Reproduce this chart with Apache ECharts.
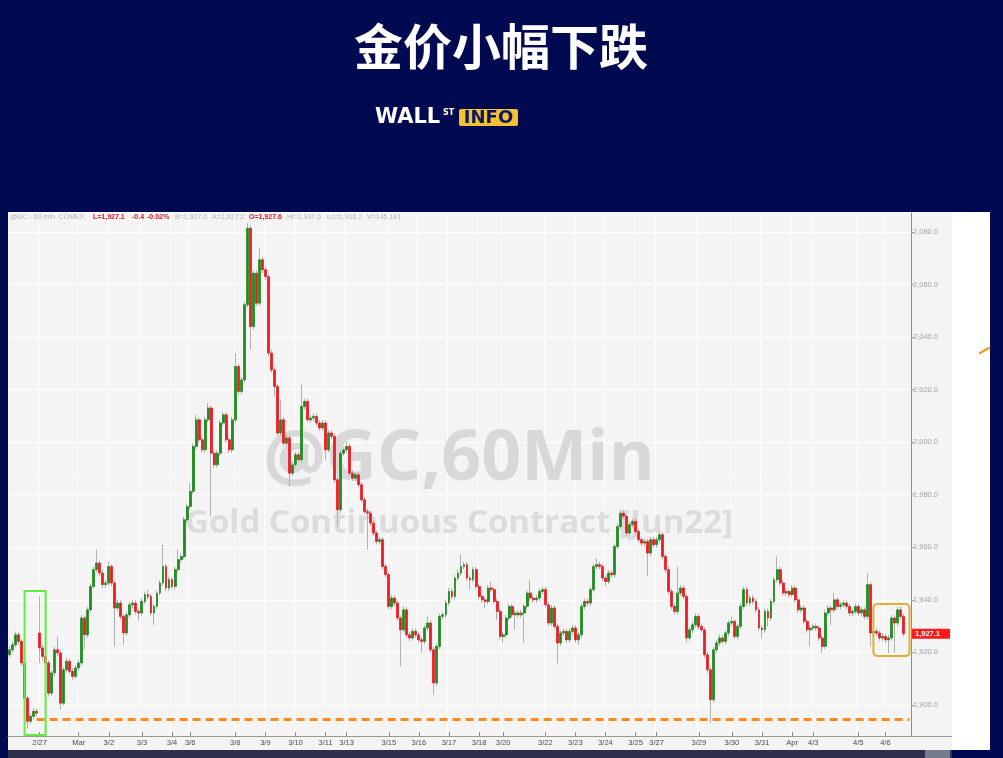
<!DOCTYPE html>
<html><head><meta charset="utf-8">
<script src="https://cdn.jsdelivr.net/npm/echarts@6/dist/echarts.min.js"></script>
<style>html,body{margin:0;padding:0;background:#010a50;}#c{width:1003px;height:758px;}</style>
</head><body><div id="c"></div>
<script>
// ---- data (hourly-ish candles) : [open, close, low, high]
const ohlc = [
[1919.1,1921.0,1918.0,1922.3],[1921.0,1922.9,1920.2,1924.2],[1922.9,1926.7,1922.0,1928.0],[1926.7,1924.2,1923.0,1927.6],
[1924.2,1916.0,1914.8,1925.0],[1916.0,1902.6,1901.4,1917.0],[1902.6,1893.8,1891.2,1903.4],[1893.8,1895.7,1892.6,1896.9],
[1895.7,1897.6,1894.5,1898.8],[1897.6,1896.9,1895.6,1898.6],[1927.4,1921.7,1916.0,1941.3],[1921.7,1918.5,1917.0,1922.8],
[1918.5,1916.0,1914.6,1919.5],[1916.0,1904.5,1903.3,1917.0],[1904.5,1912.2,1903.5,1913.2],[1912.2,1921.0,1911.0,1922.0],
[1921.0,1919.8,1918.6,1926.1],[1919.8,1900.7,1898.2,1920.8],[1900.7,1913.4,1899.8,1914.4],[1913.4,1916.6,1912.4,1918.0],
[1916.6,1912.8,1911.8,1917.6],[1912.8,1910.9,1909.6,1913.8],[1910.9,1914.1,1910.0,1915.2],[1914.1,1916.0,1913.0,1917.2],
[1916.0,1933.1,1915.0,1934.2],[1933.1,1926.7,1921.0,1934.0],[1926.7,1936.2,1925.6,1937.3],[1936.2,1945.1,1935.2,1946.2],
[1945.1,1951.5,1944.2,1952.6],[1951.5,1954.0,1950.4,1959.1],[1954.0,1950.2,1949.0,1955.0],[1950.2,1945.8,1944.6,1951.2],
[1945.8,1946.4,1944.6,1947.6],[1946.4,1952.7,1945.4,1954.6],[1952.7,1946.4,1945.2,1953.6],[1946.4,1936.9,1922.3,1947.4],
[1936.9,1938.8,1935.8,1940.0],[1938.8,1933.7,1932.6,1939.8],[1933.7,1927.4,1922.9,1934.7],[1927.4,1934.3,1926.4,1935.4],
[1934.3,1938.1,1933.2,1939.2],[1938.1,1938.8,1936.8,1940.0],[1938.8,1935.6,1934.4,1939.8],[1935.6,1935.0,1932.4,1936.8],
[1935.0,1939.4,1934.0,1940.5],[1939.4,1942.0,1938.4,1943.2],[1942.0,1941.3,1940.2,1943.9],[1941.3,1935.0,1934.0,1942.3],
[1935.0,1937.5,1930.5,1938.6],[1937.5,1942.6,1936.4,1943.7],[1942.6,1946.4,1941.6,1947.5],[1946.4,1952.7,1945.4,1961.0],
[1952.7,1944.5,1943.3,1953.7],[1944.5,1947.7,1943.4,1948.8],[1947.7,1945.1,1944.0,1948.7],[1945.1,1951.5,1944.0,1952.6],
[1951.5,1955.3,1950.4,1959.1],[1955.3,1956.5,1954.2,1957.8],[1956.5,1970.5,1955.4,1971.6],[1970.5,1975.5,1969.4,1976.6],
[1975.5,1981.3,1974.4,1984.4],[1981.3,1998.4,1980.2,1999.5],[1998.4,2008.5,1997.4,2010.4],[2008.5,2000.9,1999.8,2009.6],
[2000.9,1997.1,1996.0,2002.0],[1997.1,2008.5,1996.0,2009.6],[2008.5,2013.0,2007.4,2014.9],[2013.0,1995.8,1971.8,2014.0],
[1995.8,1991.4,1990.2,1997.0],[1991.4,1995.8,1990.3,1997.0],[1995.8,2007.3,1994.7,2008.4],[2007.3,2010.4,2006.2,2011.6],
[2010.4,2000.9,1999.8,2011.4],[2000.9,1997.1,1996.0,2002.0],[1997.1,2008.5,1996.0,2009.6],[2008.5,2028.8,2007.4,2033.9],
[2028.8,2019.3,2018.0,2029.8],[2019.3,2023.7,2018.2,2024.8],[2023.7,2052.3,2022.6,2053.4],[2052.3,2081.4,2051.2,2083.3],
[2081.4,2044.0,2035.2,2082.4],[2044.0,2064.3,2043.0,2065.4],[2064.3,2052.9,2051.8,2065.4],[2052.9,2069.4,2051.8,2073.8],
[2069.4,2065.6,2064.4,2070.6],[2065.6,2063.0,2061.8,2066.8],[2063.0,2033.9,2032.8,2064.0],[2033.9,2027.5,2026.4,2035.0],
[2027.5,2021.2,2017.4,2028.6],[2021.2,2003.5,2002.4,2022.2],[2003.5,2008.5,2002.4,2016.2],[2008.5,1999.6,1998.4,2009.6],
[1999.6,2001.6,1998.5,2002.8],[2001.6,1988.2,1983.2,2002.6],[1988.2,1991.4,1987.0,1992.5],[1991.4,1995.2,1990.3,1996.3],
[1995.2,1993.3,1992.2,1996.3],[1993.3,2013.6,1992.2,2021.8],[2013.6,2015.5,2012.5,2016.6],[2015.5,2008.5,2007.4,2016.6],
[2008.5,2009.2,2007.4,2010.3],[2009.2,2009.8,2008.0,2011.0],[2009.8,2007.3,2006.2,2010.9],[2007.3,2005.4,2004.3,2008.4],
[2005.4,2007.3,2004.3,2008.4],[2007.3,1997.1,1993.3,2008.3],[1997.1,2003.5,1996.0,2004.6],[2003.5,2002.2,2001.1,2004.6],
[2002.2,1985.7,1984.6,2003.2],[1985.7,1974.3,1967.9,1986.7],[1974.3,1995.8,1973.2,1996.9],[1995.8,1997.1,1994.7,1998.2],
[1997.1,1998.4,1996.0,2000.3],[1998.4,1988.2,1987.1,1999.4],[1988.2,1986.3,1985.2,1989.3],[1986.3,1987.6,1985.2,1988.7],
[1987.6,1983.8,1982.7,1988.6],[1983.8,1978.1,1977.0,1984.8],[1978.1,1973.6,1972.5,1979.1],[1973.6,1973.0,1959.1,1974.7],
[1973.0,1969.2,1968.1,1974.0],[1969.2,1965.4,1964.3,1970.2],[1965.4,1962.2,1961.1,1966.4],[1962.2,1962.9,1961.1,1964.0],
[1962.9,1952.7,1951.6,1963.9],[1952.7,1949.6,1948.5,1953.7],[1949.6,1937.5,1936.4,1950.6],[1937.5,1940.7,1936.4,1941.8],
[1940.7,1938.8,1937.7,1941.8],[1938.8,1933.1,1932.0,1939.8],[1933.1,1928.6,1914.7,1934.1],[1928.6,1936.2,1927.5,1937.5],
[1936.2,1926.7,1925.6,1937.2],[1926.7,1925.5,1924.4,1927.8],[1925.5,1928.0,1924.4,1929.1],[1928.0,1926.7,1925.6,1929.1],
[1926.7,1924.8,1923.7,1927.8],[1924.8,1924.2,1919.8,1925.9],[1924.2,1929.3,1923.1,1930.4],[1929.3,1931.2,1928.2,1933.7],
[1931.2,1921.0,1919.9,1932.2],[1921.0,1908.4,1903.9,1922.0],[1908.4,1922.3,1907.3,1923.4],[1922.3,1933.7,1921.2,1934.8],
[1933.7,1934.3,1932.6,1935.4],[1934.3,1938.8,1933.2,1939.9],[1938.8,1943.2,1937.7,1944.5],[1943.2,1941.3,1940.2,1944.3],
[1941.3,1948.3,1940.2,1949.4],[1948.3,1950.2,1947.2,1951.5],[1950.2,1952.7,1949.1,1957.2],[1952.7,1953.4,1951.6,1954.5],
[1953.4,1948.3,1947.2,1954.4],[1948.3,1947.7,1943.9,1949.4],[1947.7,1951.5,1946.6,1952.6],[1951.5,1945.1,1944.0,1952.5],
[1945.1,1941.3,1940.2,1946.1],[1941.3,1940.0,1938.9,1942.4],[1940.0,1939.4,1936.9,1941.1],[1939.4,1944.5,1938.3,1945.6],
[1944.5,1943.9,1942.8,1947.0],[1943.9,1939.4,1938.3,1944.9],[1939.4,1935.6,1932.4,1940.4],[1935.6,1926.1,1925.0,1936.6],
[1926.1,1926.7,1923.6,1927.8],[1926.7,1933.1,1925.6,1934.2],[1933.1,1937.5,1932.0,1938.6],[1937.5,1934.3,1933.2,1938.5],
[1934.3,1935.0,1928.6,1936.1],[1935.0,1934.3,1933.2,1936.1],[1934.3,1935.0,1933.2,1936.1],[1935.0,1937.5,1923.6,1938.6],
[1937.5,1942.6,1936.4,1943.7],[1942.6,1940.7,1939.6,1947.7],[1940.7,1940.0,1938.9,1941.8],[1940.0,1940.7,1938.9,1941.8],
[1940.7,1943.2,1939.6,1944.3],[1943.2,1943.9,1942.1,1945.1],[1943.9,1938.1,1937.0,1944.9],[1938.1,1931.2,1930.1,1939.1],
[1931.2,1936.9,1930.1,1938.0],[1936.9,1929.9,1928.8,1937.9],[1929.9,1923.6,1916.0,1930.9],[1923.6,1927.4,1922.5,1928.5],
[1927.4,1928.0,1926.3,1929.1],[1928.0,1924.8,1923.7,1929.0],[1924.8,1928.0,1923.7,1929.1],[1928.0,1929.3,1926.9,1930.4],
[1929.3,1924.8,1923.7,1930.3],[1924.8,1926.7,1922.9,1927.8],[1926.7,1937.5,1925.6,1938.6],[1937.5,1939.4,1936.4,1940.5],
[1939.4,1938.8,1937.7,1940.5],[1938.8,1943.9,1937.7,1945.0],[1943.9,1952.7,1942.8,1953.8],[1952.7,1953.4,1951.6,1955.9],
[1953.4,1952.7,1951.6,1954.5],[1952.7,1948.3,1947.2,1953.7],[1948.3,1947.0,1945.1,1949.4],[1947.0,1950.2,1945.9,1951.3],
[1950.2,1949.6,1948.5,1951.3],[1949.6,1960.3,1948.5,1961.4],[1960.3,1967.9,1959.2,1969.0],[1967.9,1973.0,1966.8,1974.3],
[1973.0,1971.8,1970.7,1974.1],[1971.8,1965.4,1964.3,1972.8],[1965.4,1968.6,1964.3,1969.7],[1968.6,1969.9,1967.5,1971.0],
[1969.9,1966.0,1964.9,1970.9],[1966.0,1962.9,1961.8,1967.0],[1962.9,1961.6,1960.5,1964.0],[1961.6,1962.2,1960.5,1963.3],
[1962.2,1957.8,1948.9,1963.2],[1957.8,1962.9,1956.7,1964.0],[1962.9,1961.0,1959.9,1964.0],[1961.0,1962.9,1959.9,1964.0],
[1962.9,1964.8,1961.8,1966.0],[1964.8,1956.5,1955.4,1965.8],[1956.5,1951.5,1950.4,1957.5],[1951.5,1943.2,1942.1,1952.5],
[1943.2,1937.5,1936.4,1944.2],[1937.5,1935.6,1934.5,1938.6],[1935.6,1942.6,1934.5,1952.7],[1942.6,1944.5,1941.5,1945.6],
[1944.5,1941.3,1940.2,1945.5],[1941.3,1925.5,1923.6,1942.3],[1925.5,1928.6,1924.4,1929.7],[1928.6,1930.5,1927.5,1931.6],
[1930.5,1933.7,1929.4,1934.8],[1933.7,1929.9,1928.8,1934.7],[1929.9,1928.6,1927.5,1930.9],[1928.6,1919.1,1918.0,1929.6],
[1919.1,1913.4,1912.2,1920.1],[1913.4,1902.0,1893.1,1914.4],[1902.0,1921.0,1900.9,1922.1],[1921.0,1923.6,1919.9,1924.7],
[1923.6,1925.5,1922.5,1926.9],[1925.5,1924.2,1923.1,1926.5],[1924.2,1927.4,1923.1,1928.5],[1927.4,1931.2,1926.3,1932.3],
[1931.2,1931.8,1930.1,1933.7],[1931.8,1926.1,1925.0,1932.8],[1926.1,1929.9,1925.0,1931.0],[1929.9,1937.5,1928.8,1938.6],
[1937.5,1943.9,1936.4,1945.0],[1943.9,1938.8,1937.7,1944.9],[1938.8,1940.7,1937.7,1941.8],[1940.7,1939.4,1938.3,1941.8],
[1939.4,1936.2,1935.1,1940.4],[1936.2,1929.3,1928.2,1937.2],[1929.3,1928.6,1925.5,1930.4],[1928.6,1935.6,1927.5,1936.7],
[1935.6,1933.1,1929.9,1936.6],[1933.1,1939.4,1932.0,1940.5],[1939.4,1947.7,1938.3,1948.8],[1947.7,1951.5,1946.6,1956.5],
[1951.5,1946.4,1945.3,1952.5],[1946.4,1942.6,1941.5,1947.4],[1942.6,1943.2,1941.5,1944.3],[1943.2,1942.0,1940.9,1944.3],
[1942.0,1944.5,1940.9,1945.6],[1944.5,1940.0,1938.9,1945.5],[1940.0,1936.2,1935.0,1941.0],[1936.2,1936.9,1935.1,1938.0],
[1936.9,1931.8,1930.7,1937.9],[1931.8,1928.6,1927.5,1932.8],[1928.6,1929.3,1922.3,1930.4],[1929.3,1929.9,1928.2,1931.0],
[1929.9,1929.3,1928.2,1931.0],[1929.3,1925.5,1924.4,1930.3],[1925.5,1922.3,1919.8,1926.5],[1922.3,1935.0,1921.2,1936.1],
[1935.0,1936.9,1933.9,1938.0],[1936.9,1936.2,1930.5,1938.0],[1936.2,1940.0,1935.1,1942.6],[1940.0,1937.5,1936.4,1941.0],
[1937.5,1938.1,1936.4,1939.2],[1938.1,1938.8,1937.0,1939.9],[1938.8,1937.5,1936.4,1939.8],[1937.5,1935.0,1933.9,1938.5],
[1935.0,1935.6,1933.9,1936.7],[1935.6,1937.5,1934.5,1938.6],[1937.5,1935.0,1933.9,1938.5],[1935.0,1936.2,1933.9,1937.3],
[1936.2,1933.7,1932.6,1937.2],[1933.7,1945.8,1932.6,1950.2],[1945.8,1927.4,1922.3,1946.8],[1927.4,1928.0,1926.3,1929.1],
[1928.0,1927.4,1926.3,1929.1],[1927.4,1925.5,1924.4,1928.4],[1925.5,1926.1,1924.4,1927.2],[1926.1,1924.8,1923.7,1927.1],
[1924.8,1925.5,1919.8,1926.6],[1925.5,1933.1,1924.4,1934.2],[1933.1,1931.2,1919.8,1934.1],[1931.2,1936.2,1930.1,1937.3],
[1936.2,1933.7,1932.6,1937.5],[1933.7,1927.1,1926.0,1934.7]
];
const slotCount = 300;                 // bar slots on the time axis (last few empty)
const tickLabels = ['2/27','Mar','3/2','3/3','3/4','3/6','3/8','3/9','3/10','3/11','3/13','3/15','3/16','3/17','3/18','3/20','3/22','3/23','3/24','3/25','3/27','3/29','3/30','3/31','Apr','4/3','4/5','4/6'];
const tickIndex  = [10,23,33,44,54,60,75,85,95,105,112,126,136,146,156,164,178,188,198,208,215,229,240,250,260,267,282,291];
const lastPrice = 1927.1;
const supportLevel = 1894.5;
const yMin = 1888.2, yMax = 2087.2, yStep = 20;
const headerItems = [
  ['@GC - 60 min  COMEX', 'g'], ['L=1,927.1', 'r'], ['-0.4', 'r'], ['-0.02%', 'r'], ['B=1,927.0', 'g'],
  ['A=1,927.2', 'g'], ['O=1,927.6', 'r'], ['Hi=1,937.6', 'g'], ['Lo=1,916.2', 'g'], ['V=145,181', 'g']
];
const headerX = [10, 93, 132, 147, 175, 212, 249, 287, 327, 367];
const greenBox = { i0: 5, i1: 12, top: 1943.4, bottom: 1888.6 };
const goldBox  = { i0: 287, i1: 299, top: 1938.4, bottom: 1918.6 };

// ---- derived
const categories = Array.from({length: slotCount}, (_, i) => String(i));
const bodies = ohlc.map(d => [d[0], d[1], Math.min(d[0], d[1]), Math.max(d[0], d[1])]);
const tickMap = {}; tickIndex.forEach((k, j) => tickMap[k] = tickLabels[j]);
const isTick = (idx) => tickMap[idx] !== undefined;
const fmt = v => v.toLocaleString('en-US', {minimumFractionDigits: 1, maximumFractionDigits: 1});

const chart = echarts.init(document.getElementById('c'), null, {renderer: 'canvas'});
const FF = '"Liberation Sans", Arial, sans-serif';

const graphics = [
  {id:'panel', type:'rect', z:-10, shape:{x:8,y:212,width:944,height:538}, style:{fill:'#f4f4f4'}},
  {id:'strip', type:'rect', z:-10, shape:{x:952,y:212,width:38,height:538}, style:{fill:'#ffffff'}},
  {id:'scroll', type:'rect', z:-9, shape:{x:8,y:750,width:944,height:8}, style:{fill:'#2d3048'}},
  {id:'scrollThumb', type:'rect', z:-8, shape:{x:925,y:750,width:25,height:8}, style:{fill:'#767b90'}},
  {id:'axisExt', type:'line', z:5, shape:{x1:911,y1:736.5,x2:952,y2:736.5}, style:{stroke:'#9a9a9a', lineWidth:1}},
  {id:'title', type:'text', z:10, style:{text:'金价小幅下跌', x:501, y:46, textAlign:'center', textVerticalAlign:'middle', align:'center', verticalAlign:'middle', fill:'#ffffff', fontSize:49, fontWeight:'bold', fontFamily:'"Noto Sans CJK SC"'}},
  {id:'wall', type:'text', z:10, style:{text:'WALL', x:375, y:118, textVerticalAlign:'middle', verticalAlign:'middle', fill:'#ffffff', fontSize:21, fontWeight:'bold', fontFamily:'"DejaVu Sans"'}},
  {id:'st', type:'text', z:10, style:{text:'ST', x:443, y:113, textVerticalAlign:'middle', verticalAlign:'middle', fill:'#ffffff', fontSize:8, fontWeight:'bold', fontFamily:'"DejaVu Sans"'}},
  {id:'infoBox', type:'rect', z:10, shape:{x:459,y:109,width:59,height:17,r:2}, style:{fill:'#f2c230'}},
  {id:'info', type:'text', z:11, style:{text:'INFO', x:488.5, y:118, textAlign:'center', align:'center', textVerticalAlign:'middle', verticalAlign:'middle', fill:'#0b1660', fontSize:18, fontWeight:'bold', fontFamily:'"DejaVu Sans"'}},
  {id:'wm1', type:'text', z:1, silent:true, style:{text:'@GC,60Min', x:459, y:460, textAlign:'center', align:'center', textVerticalAlign:'middle', verticalAlign:'middle', fill:'#d8d8d8', fontSize:70, fontWeight:'bold', fontFamily:'"Open Sans"'}},
  {id:'wm2', type:'text', z:1, silent:true, style:{text:'Gold Continuous Contract [Jun22]', x:459, y:524, textAlign:'center', align:'center', textVerticalAlign:'middle', verticalAlign:'middle', fill:'#dcdcdc', fontSize:33, fontWeight:'bold', fontFamily:'"Open Sans"'}},
  {id:'mark', type:'line', z:10, shape:{x1:980,y1:353,x2:989,y2:348}, style:{stroke:'#f39a26', lineWidth:2.5, lineCap:'round'}}
];
headerItems.forEach((h, j) => {
  graphics.push({id:'hd'+j, type:'text', z:10, style:{text:h[0], x:headerX[j], y:217.5, textVerticalAlign:'middle', verticalAlign:'middle',
    fill: h[1]==='r' ? '#e3161c' : '#b4b4b4', fontSize:7, fontWeight: h[1]==='r' ? 'bold' : 'normal', fontFamily:FF}});
});

chart.setOption({
  backgroundColor: '#010a50',
  animation: false,
  grid: {left: 8, top: 213, width: 903, height: 523, containLabel: false},
  xAxis: {
    type: 'category', data: categories, boundaryGap: true,
    axisLine: {lineStyle: {color: '#9a9a9a', width: 1}},
    axisTick: {show: true, inside: true, length: 4, alignWithLabel: true, interval: (i) => isTick(i), lineStyle: {color: '#8a8a8a'}},
    axisLabel: {interval: (i) => isTick(i), formatter: (v, i) => tickMap[i] || '', color: '#4a4a4a', fontSize: 7.5, margin: 3, fontFamily: FF},
    splitLine: {show: true, interval: (i) => isTick(i), lineStyle: {color: '#ffffff', width: 1}}
  },
  yAxis: {
    type: 'value', position: 'right', min: yMin, max: yMax, splitNumber: 10, minInterval: yStep, maxInterval: yStep, scale: true,
    axisLine: {show: true, lineStyle: {color: '#8c8c8c', width: 1}},
    axisTick: {show: true, length: 3, lineStyle: {color: '#a0a0a0'}},
    axisLabel: {color: '#a3a3a3', fontSize: 7.5, margin: 2, fontFamily: FF, showMinLabel: false, showMaxLabel: false,
      formatter: v => (Math.abs(v / yStep - Math.round(v / yStep)) < 1e-6) ? fmt(v) : ''},
    splitLine: {show: true, lineStyle: {color: '#ffffff', width: 1}}
  },
  graphic: graphics,
  series: [
    {
      name: 'wicks', type: 'candlestick', data: ohlc, barWidth: 1, z: 2,
      itemStyle: {color: 'rgba(0,0,0,0)', color0: 'rgba(0,0,0,0)', borderColor: '#b0b0b0', borderColor0: '#b0b0b0', borderWidth: 1}
    },
    {
      name: 'GC', type: 'candlestick', data: bodies, barWidth: 2.4, z: 3,
      itemStyle: {color: '#1f8c1f', color0: '#ec1c24', borderColor: '#1f8c1f', borderColor0: '#ec1c24', borderWidth: 0.8},
      markLine: {
        silent: true, symbol: ['none', 'none'], animation: false, precision: 1,
        data: [
          [{coord: [9, supportLevel], lineStyle: {color: '#ff8a1c', width: 3, type: [8, 5]}, label: {show: false}},
           {coord: [299, supportLevel]}]
        ]
      }
    },
    {
      name: 'last', type: 'line', data: [], z: 6,
      markLine: {
        silent: true, symbol: ['none', 'none'], animation: false,
        lineStyle: {color: 'rgba(0,0,0,0)', width: 1},
        label: {show: true, position: 'end', distance: 1, formatter: () => fmt(lastPrice), backgroundColor: '#ff1a1a', color: '#ffffff',
                fontSize: 7.5, fontWeight: 'bold', fontFamily: FF, padding: [1, 10, 1, 3], lineHeight: 8},
        data: [{yAxis: lastPrice}]
      }
    }
  ]
});

function boxRect(b) {
  const p0 = chart.convertToPixel({gridIndex: 0}, [b.i0, b.top]);
  const p1 = chart.convertToPixel({gridIndex: 0}, [b.i1, b.bottom]);
  return {x: p0[0], y: p0[1], width: p1[0] - p0[0], height: p1[1] - p0[1]};
}
const gb = boxRect(greenBox), ob = boxRect(goldBox);
chart.setOption({graphic: [
  {id:'greenBox', type:'rect', z:20, shape:gb, style:{fill:'none', stroke:'#5fee3f', lineWidth:2}},
  {id:'goldBox', type:'rect', z:20, shape:Object.assign({r:4}, ob), style:{fill:'none', stroke:'#e6ae2e', lineWidth:2}}
]});
</script></body></html>
